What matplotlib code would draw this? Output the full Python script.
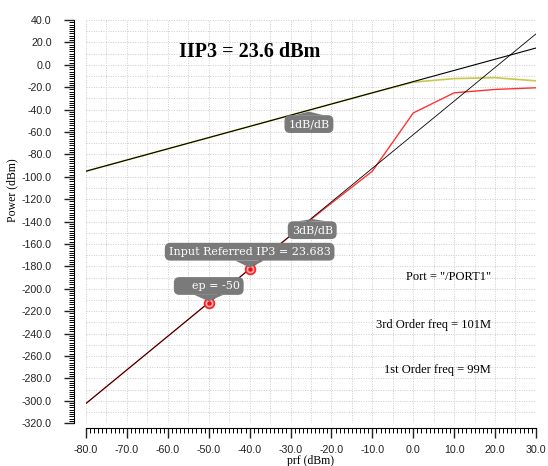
import matplotlib
matplotlib.use("Agg")
import matplotlib.pyplot as plt
from matplotlib.ticker import MultipleLocator, FormatStrFormatter

# input power sweep (dBm)
pin = [-80, -70, -60, -50, -40, -30, -20, -10, 0, 10, 20, 30]
# 1st order output (99M)
p1st = [-95, -85, -75, -65, -55, -45, -35, -25, -15.5, -12.3, -11.5, -14.3]
# 3rd order output (101M)
p3rd = [-302.4, -272.4, -242.4, -212.4, -182.4, -152.6, -123.5, -95, -43, -25, -22, -20.5]

# extrapolated lines
ext_x = [-80, 30]
ext_1db = [-95, 15]
ext_3db = [-302.4, 27.6]

# marked points on the 3rd order curve
mark_x = [-50, -40]
mark_y = [-212.4, -182.4]
iip3 = 23.683

fig = plt.figure(figsize=(5.48, 4.66), dpi=100)
ax = fig.add_axes([0.157, 0.092, 0.821, 0.865])

ax.plot(pin, p1st, color="#c8c84a", lw=1.2, zorder=3)
ax.plot(pin, p3rd, color="#ff3333", lw=1.0, zorder=3)
ax.plot(ext_x, ext_1db, color="black", lw=0.8, zorder=4)
ax.plot(ext_x, ext_3db, color="black", lw=0.6, zorder=4)
ax.plot(mark_x, mark_y, "o", ms=7, mfc="#ffb0b0", mec="#ff2222", mew=1.3, zorder=5)
ax.plot(mark_x, mark_y, "o", ms=2.2, color="#ee1111", zorder=5)

ax.set_xlim(-80, 30)
ax.set_ylim(-320, 40)
ax.xaxis.set_major_locator(MultipleLocator(10))
ax.xaxis.set_minor_locator(MultipleLocator(1))
ax.yaxis.set_major_locator(MultipleLocator(20))
ax.yaxis.set_minor_locator(MultipleLocator(2))
ax.xaxis.set_major_formatter(FormatStrFormatter("%.1f"))
ax.yaxis.set_major_formatter(FormatStrFormatter("%.1f"))

# dotted grid every 5 in x, every 10 in y
for gx in range(-80, 31, 5):
    ax.axvline(gx, color="#cccccc", lw=0.7, ls=(0, (1, 1.5)), zorder=1)
for gy in range(-320, 41, 10):
    ax.axhline(gy, color="#cccccc", lw=0.7, ls=(0, (1, 1.5)), zorder=1)

for s in ["top", "right"]:
    ax.spines[s].set_visible(False)
ax.spines["left"].set_position(("outward", 8.6))
ax.spines["bottom"].set_position(("outward", 3.6))
ax.tick_params(which="major", length=7.5, width=1, labelsize=7.7, colors="#222222")
ax.tick_params(which="minor", length=3.5, width=0.7)
ax.tick_params(axis="y", which="major", pad=8.5)
ax.tick_params(axis="x", which="major", pad=5)
for lab in ax.get_xticklabels() + ax.get_yticklabels():
    lab.set_family("Liberation Sans")

ax.set_ylabel("Power (dBm)", family="Liberation Serif", fontsize=8.5)
ax.yaxis.set_label_coords(-0.151, 0.578)
ax.set_xlabel("prf (dBm)", family="Liberation Serif", fontsize=8.5, labelpad=0)

ax.text(0.364, 0.92, "IIP3 = 23.6 dBm", transform=ax.transAxes, ha="center", va="center",
        family="Liberation Serif", fontsize=14.5, fontweight="bold")
ax.text(0.9, 0.362, 'Port = "/PORT1"', transform=ax.transAxes, ha="right", va="center",
        family="Liberation Serif", fontsize=9)
ax.text(0.9, 0.243, "3rd Order freq = 101M", transform=ax.transAxes, ha="right", va="center",
        family="Liberation Serif", fontsize=9)
ax.text(0.9, 0.132, "1st Order freq = 99M", transform=ax.transAxes, ha="right", va="center",
        family="Liberation Serif", fontsize=9)

box = dict(boxstyle="round,pad=0.35,rounding_size=0.5", fc="#7a7a7a", ec="none")
arrow = dict(arrowstyle="wedge,tail_width=2.6", fc="#7a7a7a", ec="none",
             shrinkA=0, shrinkB=1)
lab_kw = dict(textcoords="offset points", ha="center", va="center", color="white",
              family="DejaVu Serif", fontsize=8, bbox=box, arrowprops=arrow, zorder=6)

ax.annotate("1dB/dB", xy=(-25.5, -25.5 - 15), xytext=(0, -10), **lab_kw)
ax.annotate("3dB/dB", xy=(-24.7, 3 * -24.7 - 62.4), xytext=(0, -9), **lab_kw)
ax.annotate("Input Referred IP3 = %.3f" % iip3, xy=(mark_x[1], mark_y[1]), xytext=(0, 12.5), **lab_kw)
ax.annotate("    ep = -50", xy=(mark_x[0], mark_y[0]), xytext=(0, 12), **lab_kw)

fig.savefig("out.png", dpi=100)
